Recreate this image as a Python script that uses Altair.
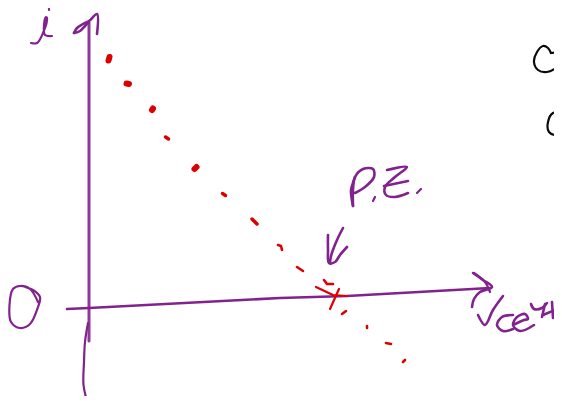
import altair as alt
import pandas as pd

# Each stroke is a list of (x, y) readings (top-left origin).
y_axis = [(89, 23), (89, 120), (89, 240), (89, 341)]
y_tail = [(88, 323), (85, 342), (84, 362), (83.5, 385), (87, 401)]
y_head_a = [(74, 33), (77, 28), (83, 24), (89, 21), (97, 14), (97, 34)]
y_head_b = [(74, 33), (80, 31), (85, 26), (89, 22)]
x_axis = [(67, 309), (89, 308), (280, 298), (347, 296), (490, 288)]
x_head_a = [(473, 273), (483, 280), (492, 287), (480, 292), (474, 299), (472, 307)]
x_head_b = [(474, 273), (485, 282), (490, 292)]
zero = [(38, 302), (30, 289), (20, 286), (13, 289), (9.5, 305), (11, 322), (20, 328),
        (30, 324), (38, 307), (40, 297), (33, 290), (25, 287)]
ell = [(31, 43), (37, 43), (43, 33), (47, 18), (46, 17), (44, 25), (45, 35), (52, 36)]
ell_dot = [(49, 9), (49, 10)]
p_stem = [(353, 206), (351, 190), (353, 183), (355, 177)]
p_bowl = [(353, 206), (353, 190), (355, 177), (363, 169), (373, 169), (374, 177), (365, 187), (355, 193)]
p_dot = [(373, 201), (375, 197)]
z_top = [(387, 170), (407, 167), (395, 177), (385, 187), (386, 195), (395, 197), (408, 193)]
z_mid = [(384, 186), (408, 181)]
z_dot = [(417, 193), (421, 189)]
arrow_a = [(343, 228), (337, 240), (331, 256), (330, 263)]
arrow_b = [(328, 235), (328, 250), (329, 263), (335, 262), (340, 255), (347, 247)]
root = [(478, 315), (485, 325), (493, 310), (503, 296)]
letter_c = [(513, 315), (502, 317), (497, 325), (503, 331), (513, 329)]
letter_e = [(513, 325), (524, 320), (528, 319), (525, 314), (517, 317), (513, 325), (520, 331), (534, 325)]
four_a = [(531, 304), (534, 309), (542, 308), (547, 303)]
four_b = [(545, 304), (542, 317)]
letter_t = [(552, 302), (553, 318)]
t_cross = [(543, 315), (562, 307)]

dots_large = [
    [(109.5, 57), (108.5, 60.5)],
    [(126.5, 83.5), (129, 84)],
    [(152, 110), (153, 108.5)],
    [(194.5, 169), (196.5, 167)],
]
dots_medium = [
    [(165.5, 137), (168.5, 139)],
    [(222.5, 193.5), (225.5, 195.5)],
    [(252, 219), (255, 222), (257, 224)],
]
dots_small = [
    [(278, 245), (281, 246), (282, 250)],
    [(297, 267), (303, 271)],
    [(324, 280), (327, 284), (333, 284)],
    [(342, 314), (346, 311)],
    [(367, 326), (367, 328)],
    [(386, 343), (391, 344)],
    [(403, 362), (405, 360)],
]
cross_a = [(316, 287), (333, 295), (347, 296)]
cross_b = [(339, 289), (330, 309)]

black_top = [(555, 0), (560, 4), (562, 5)]
black_mid = [(551, 53), (548, 48), (543, 46), (537, 52), (534, 62), (538, 70), (547, 72), (557, 67), (562, 60)]
black_mid_b = [(551, 53), (557, 52), (562, 50)]
black_low = [(563, 113), (553, 113), (548, 122), (549, 132), (557, 135), (562, 133)]
black_hook = [(562, 122), (559, 128)]

PURPLE = "#82228F"
RED = "#DD0000"
BLACK = "#0A0A0A"
groups = [
    ([y_axis], PURPLE, 3.0, "linear", 0.9),
    ([x_axis], PURPLE, 2.6, "linear", 1),
    ([y_tail, zero, ell, ell_dot, x_head_b, p_dot, z_dot], PURPLE, 2.2, "catmull-rom", 1),
    ([y_head_a, y_head_b, x_head_a, p_stem, p_bowl, z_top, z_mid, arrow_a, arrow_b,
      root, letter_c, letter_e, four_a, four_b, letter_t, t_cross], PURPLE, 2.6, "catmull-rom", 1),
    (dots_large, RED, 6, "linear", 1),
    (dots_medium, RED, 3.5, "linear", 1),
    (dots_small, RED, 2.6, "linear", 1),
    ([cross_a, cross_b], RED, 2.2, "linear", 1),
    ([black_top, black_mid, black_mid_b, black_low, black_hook], BLACK, 2.2, "catmull-rom", 1),
]

x_scale = alt.Scale(domain=[8, 554], range=[0, 546], nice=False, zero=False)
y_scale = alt.Scale(domain=[8, 396], range=[0, 388], nice=False, zero=False)

layers = []
for strokes, color, width, interp, opacity in groups:
    rows = [
        {"stroke": i, "step": j, "x": px, "y": py}
        for i, stroke in enumerate(strokes)
        for j, (px, py) in enumerate(stroke)
    ]
    layers.append(
        alt.Chart(pd.DataFrame(rows))
        .mark_line(color=color, strokeWidth=width, interpolate=interp, strokeCap="round",
                   strokeJoin="round", opacity=opacity, clip=False)
        .encode(
            x=alt.X("x:Q", scale=x_scale, axis=None),
            y=alt.Y("y:Q", scale=y_scale, axis=None),
            detail="stroke:N",
            order="step:Q",
        )
    )

chart = (
    alt.layer(*layers)
    .properties(width=546, height=388, padding=0, background="white",
                autosize=alt.AutoSizeParams(type="none"))
    .configure_view(stroke=None)
)
chart.save("out.html", embed_options={"renderer": "svg", "actions": False})
